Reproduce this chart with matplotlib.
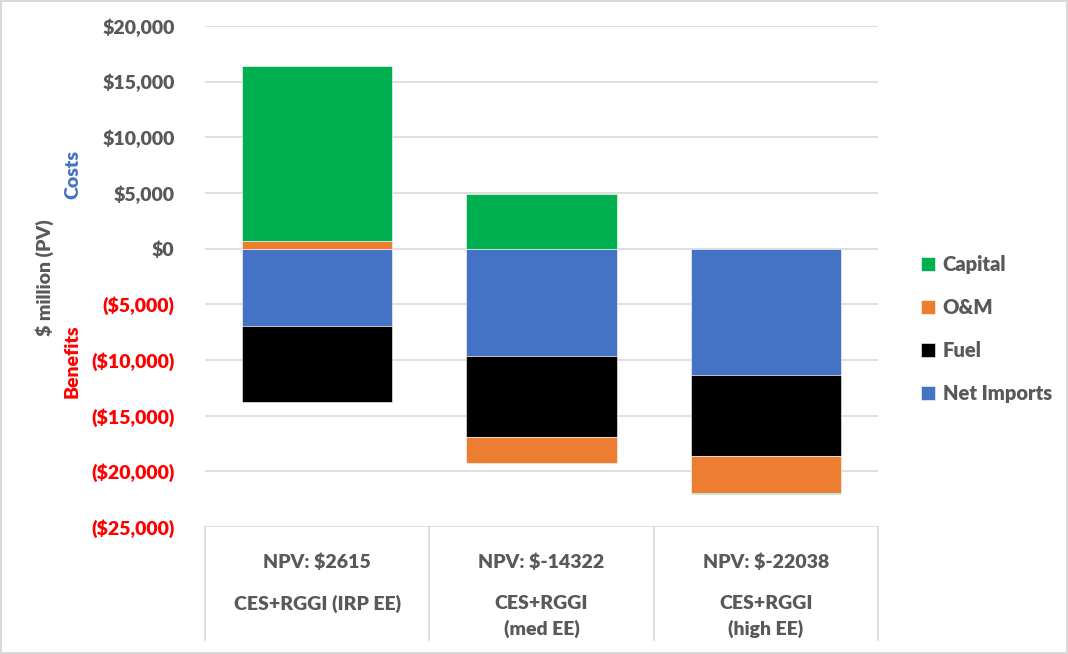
import numpy as np
import matplotlib.pyplot as plt
from matplotlib.ticker import FuncFormatter
import matplotlib.transforms as mtransforms

plt.rcParams['font.family'] = ['Lato', 'DejaVu Sans']

scenarios = ['CES+RGGI (IRP EE)', 'CES+RGGI\n(med EE)', 'CES+RGGI\n(high EE)']
npv = ['$2615', '$-14322', '$-22038']

# $ million (PV), stacking order from zero outwards
net_imports = [-6900, -9600, -11300]
fuel = [-6900, -7300, -7300]
om = [700, -2320, -3330]
capital = [15700, 4900, -108]

series = [('Net Imports', net_imports, '#4472C4'),
          ('Fuel', fuel, '#000000'),
          ('O&M', om, '#ED7D31'),
          ('Capital', capital, '#00B050')]

grey = '#595959'
wt = 'heavy'

fig = plt.figure(figsize=(10.68, 6.54), dpi=100)
fig.patch.set_edgecolor('#d9d9d9')
fig.patch.set_linewidth(1.5)
ax = fig.add_axes([0.192, 0.194, 0.630, 0.766])

x = np.arange(len(scenarios))
pos_base = np.zeros(len(x))
neg_base = np.zeros(len(x))
handles = {}
for name, vals, col in series:
    vals = np.array(vals, dtype=float)
    bottom = np.where(vals >= 0, pos_base, neg_base)
    b = ax.bar(x, vals, bottom=bottom, width=0.67, color=col,
               edgecolor='white', linewidth=0.4, zorder=3)
    handles[name] = b
    pos_base += np.where(vals >= 0, vals, 0)
    neg_base += np.where(vals < 0, vals, 0)

ax.set_ylim(-25000, 20000)
ax.set_xlim(-0.5, 2.5)
ax.set_yticks(np.arange(-25000, 20001, 5000))
ax.yaxis.grid(True, color='#d9d9d9', linewidth=1.2, zorder=0)
ax.set_axisbelow(True)
for s in ax.spines.values():
    s.set_visible(False)
ax.tick_params(axis='both', length=0)
ax.set_xticks([])


def fmt(v, _):
    if v < 0:
        return '(${:,.0f})'.format(-v)
    return '${:,.0f}'.format(v)


ax.yaxis.set_major_formatter(FuncFormatter(fmt))
ax.tick_params(axis='y', pad=22)
for lab, v in zip(ax.get_yticklabels(), ax.get_yticks()):
    lab.set_fontsize(14)
    lab.set_fontweight(wt)
    lab.set_color('red' if v < 0 else grey)

# category "table" under the plot
trans = mtransforms.blended_transform_factory(ax.transData, ax.transAxes)
for xb in np.arange(-0.5, len(x), 1.0):
    ax.plot([xb, xb], [0, -0.226], transform=trans, color='#d9d9d9',
            linewidth=1.2, clip_on=False)
for i in x:
    ax.text(i, -0.07, 'NPV: ' + npv[i], transform=trans, ha='center', va='center',
            fontsize=14, fontweight=wt, color=grey)
    ax.text(i, -0.135, scenarios[i], transform=trans, ha='center', va='top',
            fontsize=14, fontweight=wt, color=grey, linespacing=1.5)

# axis labels
fig.text(0.042, 0.575, '$ million (PV)', rotation=90, ha='center', va='center',
         fontsize=14, fontweight=wt, color=grey)
fig.text(0.068, 0.733, 'Costs', rotation=90, ha='center', va='center',
         fontsize=14, fontweight=wt, color='#4472C4')
fig.text(0.068, 0.447, 'Benefits', rotation=90, ha='center', va='center',
         fontsize=14, fontweight=wt, color='red')

order = ['Capital', 'O&M', 'Fuel', 'Net Imports']
leg = fig.legend([handles[n] for n in order], order, loc='center left',
                 bbox_to_anchor=(0.845, 0.497), frameon=False, fontsize=14.5,
                 handlelength=0.7, handleheight=0.7, handletextpad=0.4,
                 labelspacing=1.2)
for t in leg.get_texts():
    t.set_color(grey)
    t.set_fontweight(wt)

fig.savefig('out.png', dpi=100)
